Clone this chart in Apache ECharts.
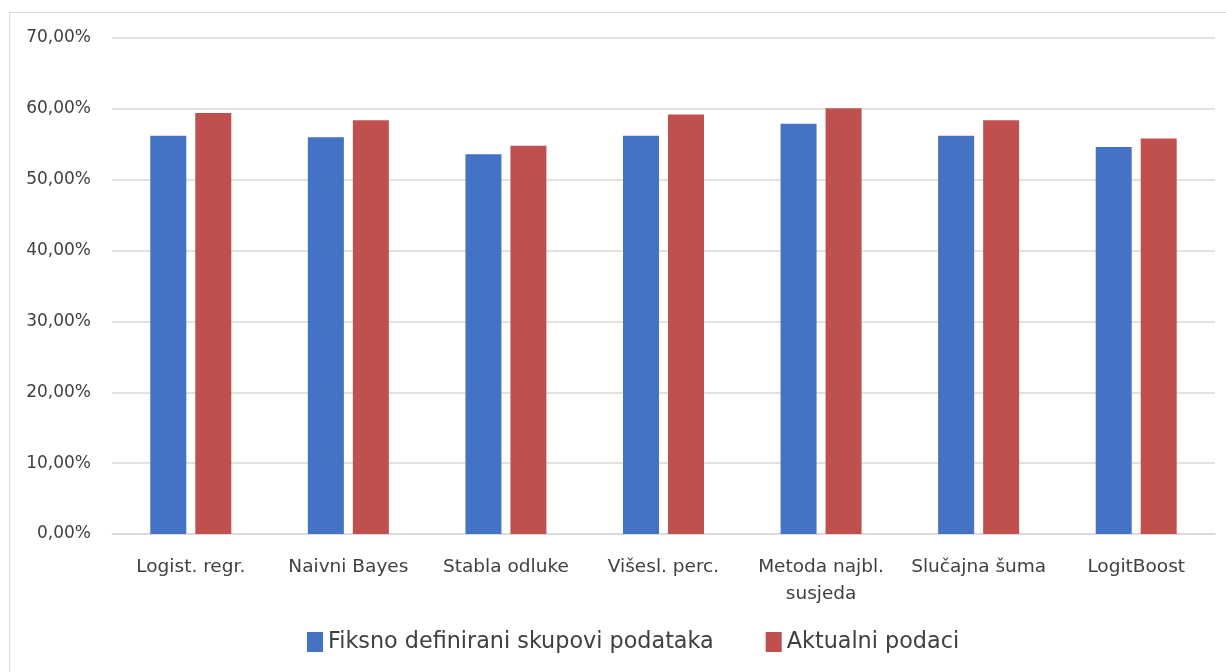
<!DOCTYPE html>
<html>
<head>
<meta charset="utf-8">
<script src="https://cdn.jsdelivr.net/npm/echarts@6/dist/echarts.min.js"></script>
<style>
  html, body { margin: 0; padding: 0; background: #fff; }
  #frame { position: absolute; left: 9px; top: 12px; width: 1240px; height: 700px; border: 1px solid #d9d9d9; }
  #chart { position: absolute; left: 0; top: 0; width: 1226px; height: 672px; }
</style>
</head>
<body>
<div id="frame"></div>
<div id="chart"></div>
<script>
// categories and values (percent)
const categories = ['Logist. regr.', 'Naivni Bayes', 'Stabla odluke', 'Višesl. perc.', 'Metoda najbl.\nsusjeda', 'Slučajna šuma', 'LogitBoost'];
const fiksnoValues = [56.2, 56.0, 53.6, 56.2, 57.9, 56.2, 54.6];
const aktualniValues = [59.4, 58.4, 54.8, 59.2, 60.1, 58.4, 55.8];
const seriesNames = ['Fiksno definirani skupovi podataka', 'Aktualni podaci'];

const FONT = '"DejaVu Sans", Verdana, sans-serif';

const chart = echarts.init(document.getElementById('chart'));
chart.setOption({
  animation: false,
  grid: { left: 112, right: 11, top: 38, bottom: 138 },
  legend: {
    bottom: 14,
    left: 302,
    itemWidth: 16,
    itemHeight: 20,
    itemGap: 52,
    icon: 'rect',
    textStyle: { fontFamily: FONT, fontSize: 22.3, color: '#404040' },
    data: seriesNames
  },
  xAxis: {
    type: 'category',
    data: categories,
    axisLine: { lineStyle: { color: '#d9d9d9', width: 1.5 } },
    axisTick: { show: false },
    axisLabel: { fontFamily: FONT, fontSize: 18.5, color: '#404040', margin: 20, lineHeight: 27, interval: 0 }
  },
  yAxis: {
    type: 'value',
    min: 0,
    max: 70,
    interval: 10,
    axisLine: { show: false },
    axisTick: { show: false },
    splitLine: { lineStyle: { color: '#d9d9d9', width: 1.5 } },
    axisLabel: {
      fontFamily: FONT, fontSize: 17, color: '#404040', margin: 21,
      formatter: v => v.toFixed(2).replace('.', ',') + '%'
    }
  },
  series: [
    {
      name: seriesNames[0], type: 'bar', data: fiksnoValues,
      barWidth: 36, barGap: '25%',
      itemStyle: { color: '#4472c4' }
    },
    {
      name: seriesNames[1], type: 'bar', data: aktualniValues,
      barWidth: 36,
      itemStyle: { color: '#c0504d' }
    }
  ]
});
</script>
</body>
</html>
